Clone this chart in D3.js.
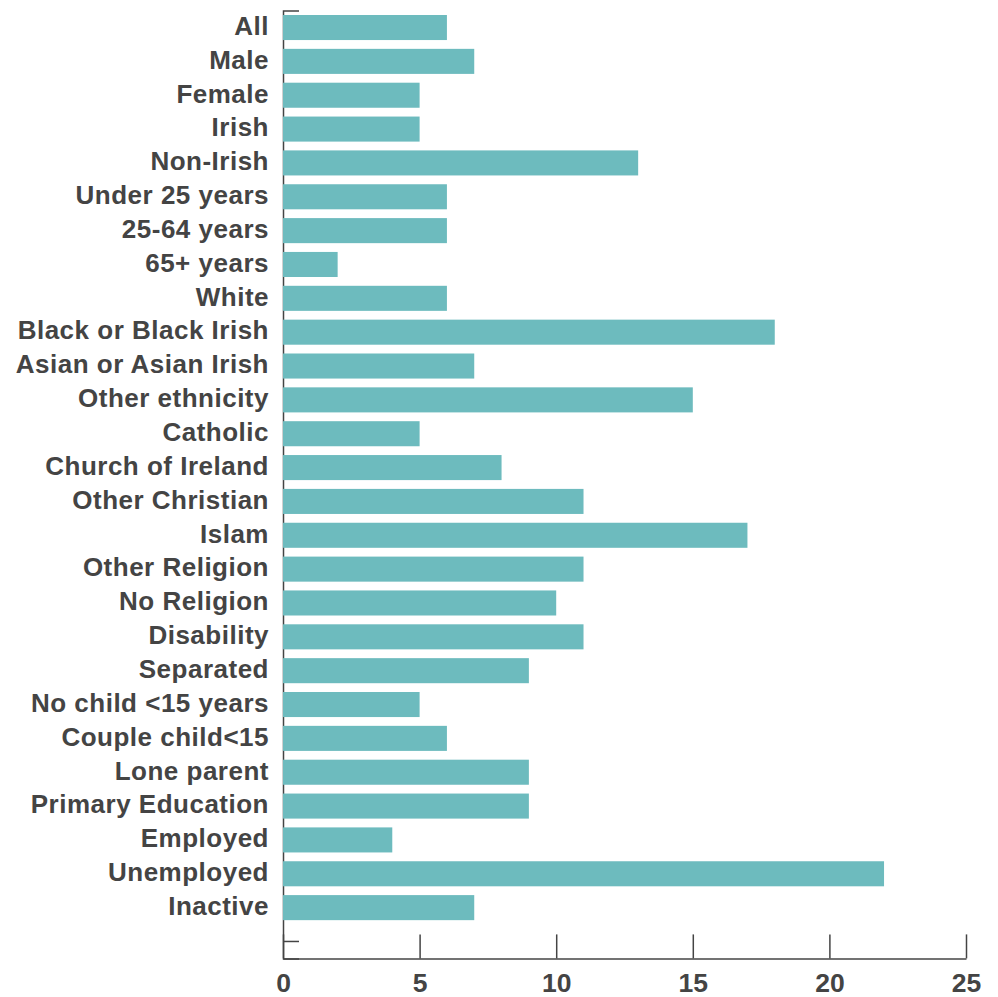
<!DOCTYPE html>
<html>
<head>
<meta charset="utf-8">
<script src="https://cdn.jsdelivr.net/npm/d3@7"></script>
<style>
  body { margin: 0; background: #fff; }
</style>
</head>
<body>
<div id="chart"></div>
<script>
// categories top to bottom, last one is the empty slot under "Inactive"
const categories = [
  "All", "Male", "Female", "Irish", "Non-Irish", "Under 25 years", "25-64 years",
  "65+ years", "White", "Black or Black Irish", "Asian or Asian Irish",
  "Other ethnicity", "Catholic", "Church of Ireland", "Other Christian", "Islam",
  "Other Religion", "No Religion", "Disability", "Separated", "No child <15 years",
  "Couple child<15", "Lone parent ", "Primary Education", "Employed", "Unemployed",
  "Inactive", ""
];
const values = [6, 7, 5, 5, 13, 6, 6, 2, 6, 18, 7, 15, 5, 8, 11, 17, 11, 10, 11, 9, 5, 6, 9, 9, 4, 22, 7];
const xTicks = [0, 5, 10, 15, 20, 25];

const width = 998;
const height = 997;
const textColor = "#444444";
const barColor = "#6dbbbe";

const svg = d3.select("#chart").append("svg")
  .attr("width", width)
  .attr("height", height)
  .style("font-family", "'Liberation Sans', Arial, sans-serif")
  .style("font-weight", "bold");

const x = d3.scaleLinear()
  .domain([0, 25])
  .range([283, 966]);

const y = d3.scaleBand()
  .domain(categories.map((c, i) => i))
  .range([10.6, 958.4])
  .paddingInner(0.26)
  .paddingOuter(0.13);

// y axis with short inward ticks (hidden behind the bars)
const yAxis = svg.append("g")
  .attr("transform", `translate(${x(0)},0)`)
  .call(d3.axisLeft(y).tickSize(-16).tickFormat(""));
yAxis.select(".domain").attr("stroke", textColor).attr("stroke-width", 1.5);
yAxis.selectAll(".tick line").attr("stroke", textColor).attr("stroke-width", 1.5);

// category labels
svg.append("g")
  .selectAll("text")
  .data(categories)
  .join("text")
  .attr("x", 269)
  .attr("y", (d, i) => y(i) + y.bandwidth() / 2)
  .attr("dy", "0.28em")
  .attr("text-anchor", "end")
  .attr("fill", textColor)
  .attr("font-size", 26)
  .attr("letter-spacing", 0.5)
  .text(d => d);

// bars
svg.append("g")
  .selectAll("rect")
  .data(values)
  .join("rect")
  .attr("x", x(0))
  .attr("y", (d, i) => y(i))
  .attr("width", d => x(d) - x(0))
  .attr("height", y.bandwidth())
  .attr("fill", barColor);

// x axis, ticks pointing up
const xAxis = svg.append("g")
  .attr("transform", `translate(0,${y.range()[1]})`)
  .call(d3.axisBottom(x).tickValues(xTicks).tickSize(-24).tickSizeOuter(0));
xAxis.select(".domain").attr("stroke", textColor).attr("stroke-width", 1.5);
xAxis.selectAll(".tick line").attr("stroke", textColor).attr("stroke-width", 1.5);
xAxis.selectAll(".tick text")
  .attr("fill", textColor)
  .attr("font-size", 26.5)
  .attr("font-family", "'Liberation Sans', Arial, sans-serif")
  .attr("font-weight", "bold")
  .attr("y", 34)
  .attr("dy", 0);
</script>
</body>
</html>
